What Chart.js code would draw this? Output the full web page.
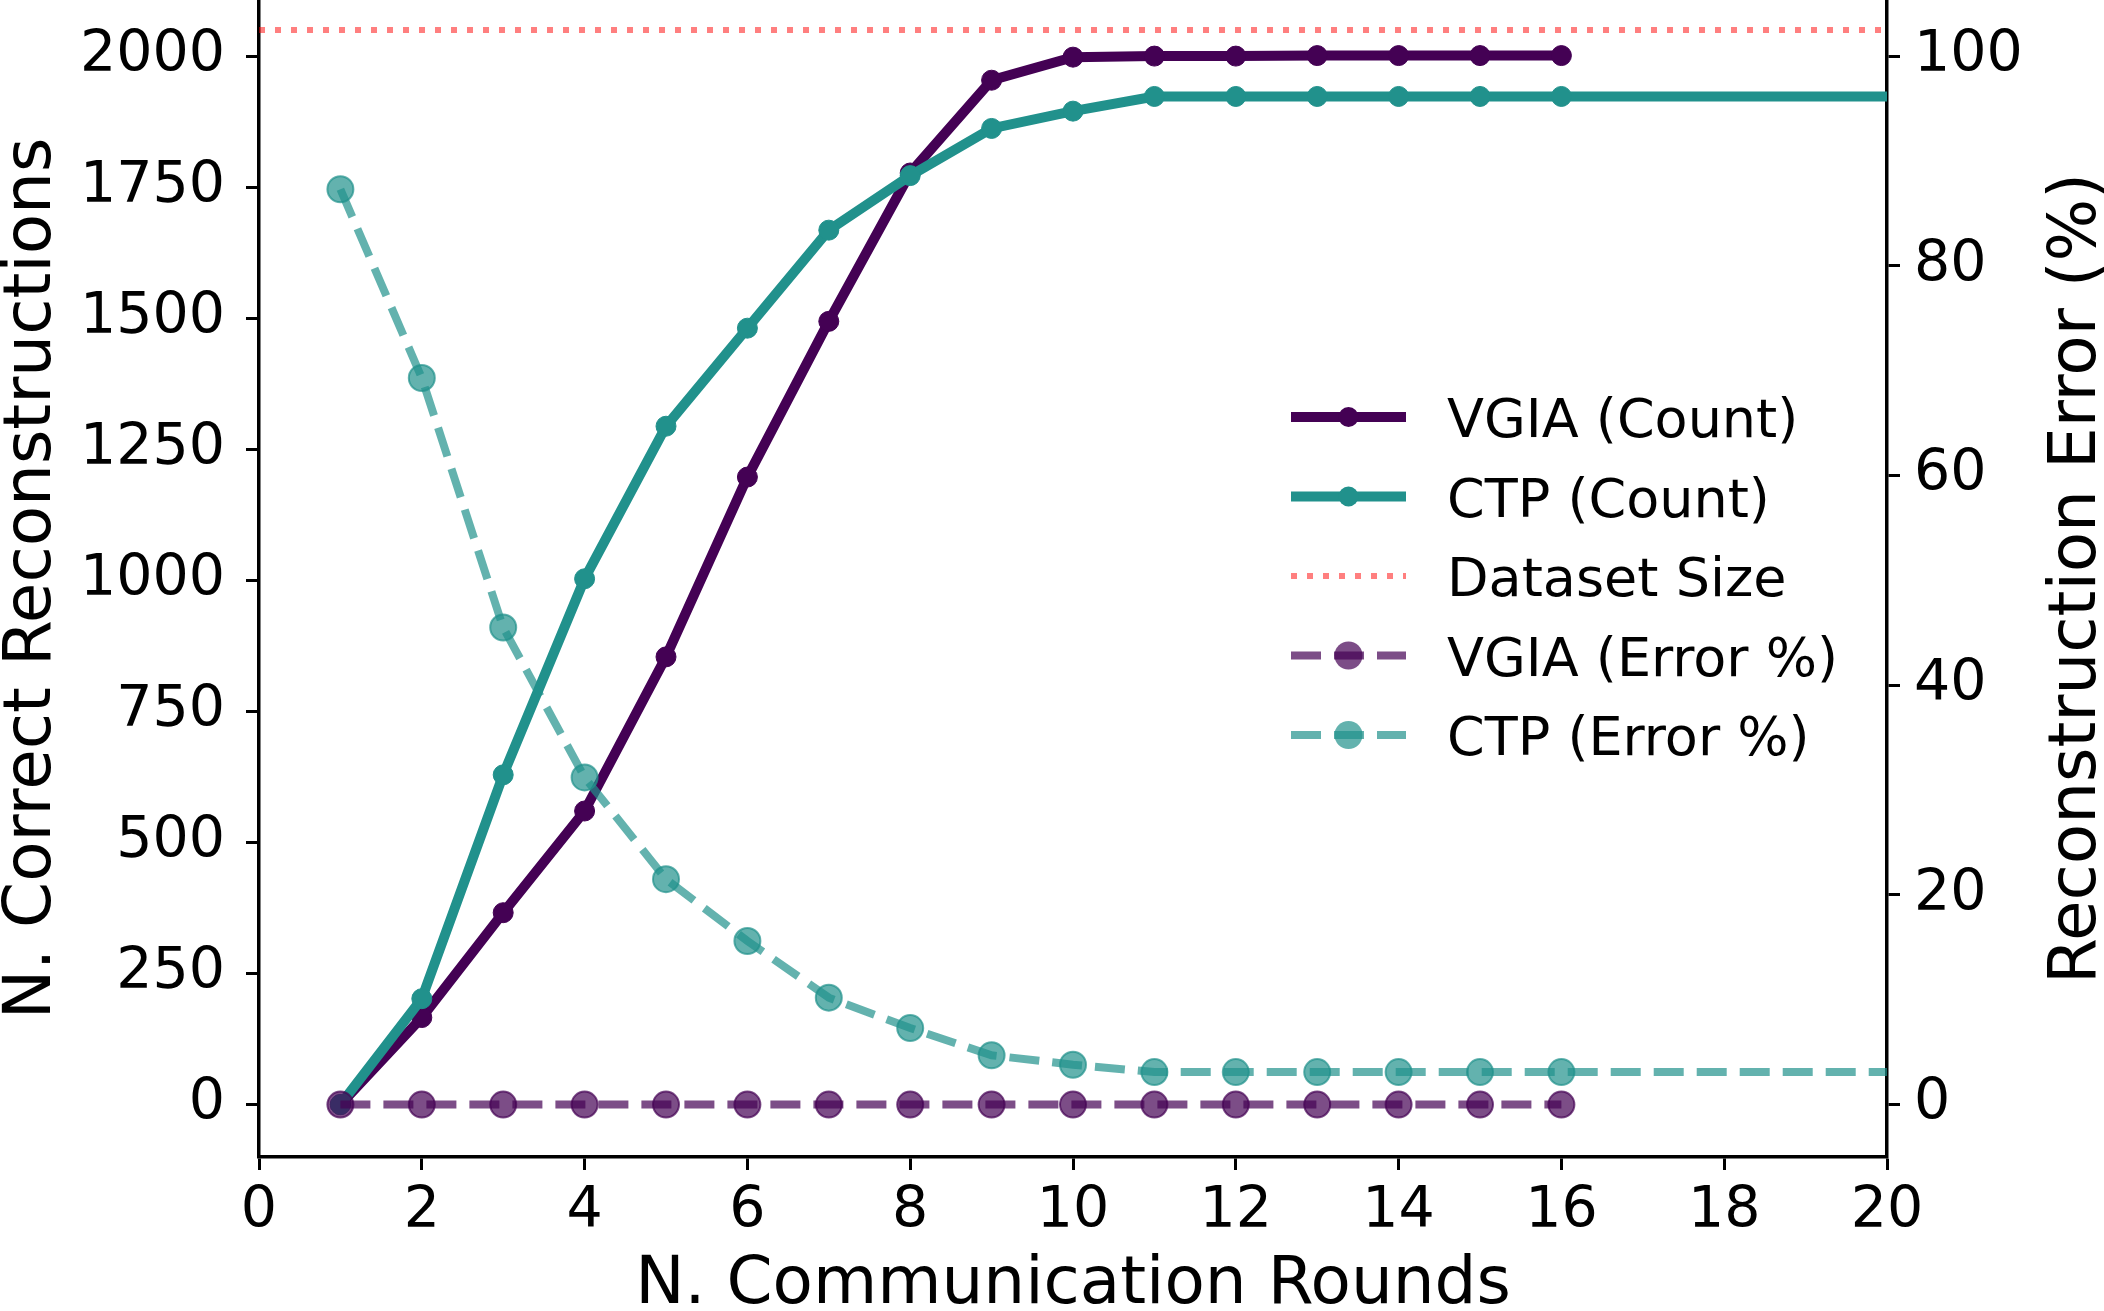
<!DOCTYPE html>
<html>
<head>
<meta charset="utf-8">
<script src="https://cdn.jsdelivr.net/npm/chart.js@4.4.1/dist/chart.umd.min.js"></script>
<style>
    html, body { margin: 0; padding: 0; background: #ffffff; }
    #grafico { display: block; }
</style>
</head>
<body>
<canvas id="grafico" width="2104" height="1311"></canvas>
<script>
// Datos
var rondasVgia = [1, 2, 3, 4, 5, 6, 7, 8, 9, 10, 11, 12, 13, 14, 15, 16];
var rondasCtp = [1, 2, 3, 4, 5, 6, 7, 8, 9, 10, 11, 12, 13, 14, 15, 16, 20];
var vgiaCount = [0, 166, 366, 560, 854, 1197, 1494, 1777, 1954, 1998, 2000, 2000, 2001, 2001, 2001, 2001];
var ctpCount = [0, 202, 629, 1003, 1294, 1481, 1668, 1772, 1862, 1895, 1923, 1923, 1923, 1923, 1923, 1923, 1923];
var vgiaError = [0, 0, 0, 0, 0, 0, 0, 0, 0, 0, 0, 0, 0, 0, 0, 0];
var ctpError = [87.3, 69.3, 45.5, 31.2, 21.5, 15.6, 10.2, 7.3, 4.7, 3.8, 3.1, 3.1, 3.1, 3.1, 3.1, 3.1, 3.1];
var tamanoDataset = 2050;
var limitesX = [0, 20];
var ticksX = [0, 2, 4, 6, 8, 10, 12, 14, 16, 18, 20];
var ticksCount = [0, 250, 500, 750, 1000, 1250, 1500, 1750, 2000];
var ticksError = [0, 20, 40, 60, 80, 100];

var MORADO = "#440154";
var TEAL = "#21918c";
var MORADO_A = "rgba(68,1,84,0.7)";
var TEAL_A = "rgba(33,145,140,0.7)";
var ROJO_A = "rgba(255,0,0,0.5)";

Chart.defaults.font.family = "'DejaVu Sans'";
Chart.defaults.color = "#000000";

function puntos(xs, ys) {
    return xs.map(function (x, i) { return { x: x, y: ys[i] }; });
}

// solo se marcan las rondas medidas (1..16)
function radioMarcador(r) {
    return function (ctx) { return ctx.raw && ctx.raw.x > 16 ? 0 : r; };
}

function fijarTicks(valores) {
    return function (escala) {
        escala.ticks = valores.map(function (v) { return { value: v }; });
    };
}

function fijarAncho(ancho) {
    return function (escala) {
        escala.width = ancho;
        escala.paddingTop = 0;
        escala.paddingBottom = 0;
    };
}

var entradasLeyenda = [
    { texto: "VGIA (Count)", color: MORADO, ancho: 10, dash: [], radio: 10 },
    { texto: "CTP (Count)", color: TEAL, ancho: 10, dash: [], radio: 10 },
    { texto: "Dataset Size", color: ROJO_A, ancho: 6, dash: [6, 10], radio: 0 },
    { texto: "VGIA (Error %)", color: MORADO_A, ancho: 8, dash: [30, 13], radio: 14 },
    { texto: "CTP (Error %)", color: TEAL_A, ancho: 8, dash: [30, 13], radio: 14 }
];

var leyendaPropia = {
    id: "leyendaPropia",
    afterDraw: function (chart) {
        var ctx = chart.ctx;
        var x0 = 1291, x1 = 1406, xTexto = 1447, y0 = 417, paso = 79.5;
        ctx.save();
        entradasLeyenda.forEach(function (e, i) {
            var y = y0 + i * paso;
            ctx.strokeStyle = e.color;
            ctx.lineWidth = e.ancho;
            ctx.lineCap = "butt";
            ctx.setLineDash(e.dash);
            ctx.beginPath();
            ctx.moveTo(x0, y);
            ctx.lineTo(x1, y);
            ctx.stroke();
            ctx.setLineDash([]);
            if (e.radio) {
                ctx.fillStyle = e.color;
                ctx.beginPath();
                ctx.arc((x0 + x1) / 2, y, e.radio, 0, Math.PI * 2);
                ctx.fill();
            }
            ctx.fillStyle = "#000000";
            ctx.font = "54px 'DejaVu Sans'";
            ctx.textAlign = "left";
            ctx.textBaseline = "alphabetic";
            ctx.fillText(e.texto, xTexto, y + 20);
        });

        // titulo del eje derecho, leido de abajo hacia arriba como en el original
        var area = chart.chartArea;
        ctx.translate(2095, (area.top + area.bottom) / 2);
        ctx.rotate(-Math.PI / 2);
        ctx.font = "66px 'DejaVu Sans'";
        ctx.textAlign = "center";
        ctx.textBaseline = "alphabetic";
        ctx.fillText("Reconstruction Error (%)", 0, 0);
        ctx.restore();
    }
};

var ejeComun = {
    border: { display: true, color: "#000000", width: 3.5 },
    grid: { display: true, drawOnChartArea: false, drawTicks: true, tickLength: 13, tickWidth: 3, tickColor: "#000000" }
};

new Chart(document.getElementById("grafico").getContext("2d"), {
    type: "line",
    data: {
        datasets: [
            {
                label: "VGIA (Error %)",
                data: puntos(rondasVgia, vgiaError),
                yAxisID: "yError",
                borderColor: MORADO_A,
                backgroundColor: MORADO_A,
                borderWidth: 8,
                borderDash: [30, 13],
                pointRadius: 13,
                pointBorderWidth: 2,
                pointBorderColor: MORADO_A,
                pointBackgroundColor: MORADO_A,
                tension: 0,
                order: 0
            },
            {
                label: "CTP (Error %)",
                data: puntos(rondasCtp, ctpError),
                yAxisID: "yError",
                borderColor: TEAL_A,
                backgroundColor: TEAL_A,
                borderWidth: 8,
                borderDash: [30, 13],
                pointRadius: radioMarcador(13),
                pointBorderWidth: 2,
                pointBorderColor: TEAL_A,
                pointBackgroundColor: TEAL_A,
                tension: 0,
                order: 1
            },
            {
                label: "Dataset Size",
                data: puntos(limitesX, [tamanoDataset, tamanoDataset]),
                yAxisID: "yCount",
                borderColor: ROJO_A,
                borderWidth: 6,
                borderDash: [6, 10],
                pointRadius: 0,
                order: 2
            },
            {
                label: "CTP (Count)",
                data: puntos(rondasCtp, ctpCount),
                yAxisID: "yCount",
                borderColor: TEAL,
                backgroundColor: TEAL,
                borderWidth: 10,
                pointRadius: radioMarcador(10),
                pointBorderWidth: 1,
                pointBackgroundColor: TEAL,
                pointBorderColor: TEAL,
                tension: 0,
                order: 3
            },
            {
                label: "VGIA (Count)",
                data: puntos(rondasVgia, vgiaCount),
                yAxisID: "yCount",
                borderColor: MORADO,
                backgroundColor: MORADO,
                borderWidth: 10,
                pointRadius: 10,
                pointBorderWidth: 1,
                pointBackgroundColor: MORADO,
                pointBorderColor: MORADO,
                tension: 0,
                order: 4
            }
        ]
    },
    options: {
        responsive: false,
        animation: false,
        devicePixelRatio: 1,
        layout: { padding: 0, autoPadding: false },
        plugins: { legend: { display: false }, tooltip: { enabled: false } },
        scales: {
            x: Object.assign({}, ejeComun, {
                type: "linear",
                position: "bottom",
                min: 0,
                max: 20,
                afterBuildTicks: fijarTicks(ticksX),
                afterFit: function (escala) {
                    escala.height = 154;
                    escala.paddingLeft = 0;
                    escala.paddingRight = 0;
                },
                ticks: { font: { size: 57 }, padding: 8, maxRotation: 0, autoSkip: false, color: "#000000",
                         callback: function (v) { return String(v); } },
                title: { display: true, text: "N. Communication Rounds", font: { size: 66, lineHeight: 1 },
                         color: "#000000", padding: { top: 0, bottom: -8 } }
            }),
            yCount: Object.assign({}, ejeComun, {
                type: "linear",
                position: "left",
                min: -100,
                max: 2107,
                afterBuildTicks: fijarTicks(ticksCount),
                afterFit: fijarAncho(259),
                ticks: { font: { size: 57 }, padding: 21, autoSkip: false, color: "#000000",
                         callback: function (v) { return String(v); } },
                title: { display: true, text: "N. Correct Reconstructions", font: { size: 66, lineHeight: 1 },
                         color: "#000000", padding: { top: 0, bottom: 0 } }
            }),
            yError: Object.assign({}, ejeComun, {
                type: "linear",
                position: "right",
                min: -5,
                max: 105.35,
                afterBuildTicks: fijarTicks(ticksError),
                afterFit: fijarAncho(217),
                ticks: { font: { size: 57 }, padding: 14, autoSkip: false, color: "#000000",
                         callback: function (v) { return String(v); } },
                title: { display: false }
            })
        }
    },
    plugins: [leyendaPropia]
});
</script>
</body>
</html>
